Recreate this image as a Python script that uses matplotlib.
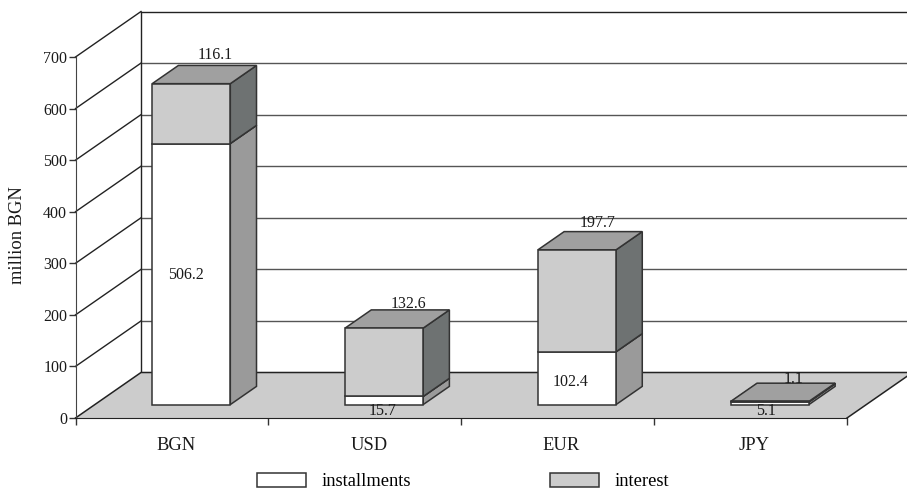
import matplotlib
matplotlib.use("Agg")
import matplotlib.pyplot as plt
from matplotlib.patches import Polygon, Patch

categories = ["BGN", "USD", "EUR", "JPY"]
installments = [506.2, 15.7, 102.4, 5.1]
interest = [116.1, 132.6, 197.7, 1.1]
y_ticks = [0, 100, 200, 300, 400, 500, 600, 700]
series_names = ["installments", "interest"]

# label offsets in pixels from each bar's anchor point
inst_offsets = [(-5, -1), (-2, -10), (-6, -4), (-4, -8)]
int_offsets = [(-2, 10), (-2, 6), (-6, 9), (-3, 4)]

plt.rcParams["font.family"] = ["Liberation Serif", "DejaVu Serif"]
NUM = 11.5
TXT = 13.3

W, H = 907, 490
fig = plt.figure(figsize=(W / 100, H / 100), dpi=100)
ax = fig.add_axes([75.5 / W, (H - 418) / H, 771.5 / W, 361 / H])
ax.set_xlim(0, 4)
ax.set_ylim(0, 700)

DX = 65.5 / (771.5 / 4)   # full depth, in category units
DY = 45.5 / (361 / 700)   # full depth, in value units
EDGE = "#333333"
GRID = "#555555"
INK = "#1a1a1a"


def P(x, y, d):
    return (x + d * DX, y + d * DY)


def poly(points, fc, ec=EDGE, lw=1.1, z=3):
    ax.add_patch(Polygon(points, closed=True, fc=fc, ec=ec, lw=lw, zorder=z,
                         clip_on=False, joinstyle="miter"))


# walls
for v in y_ticks[1:]:
    c = "#222222" if v == 700 else GRID
    ax.plot(*zip(P(0, v, 0), P(0, v, 1)), color="#222222", lw=1, zorder=1, clip_on=False)
    ax.plot(*zip(P(0, v, 1), P(4, v, 1)), color=c, lw=1, zorder=1, clip_on=False)
ax.plot(*zip(P(0, 0, 1), P(0, 700, 1)), color="#222222", lw=1, zorder=1, clip_on=False)

# floor
poly([P(0, 0, 0), P(4, 0, 0), P(4, 0, 1), P(0, 0, 1)], "#cccccc", ec="none", lw=0, z=1.5)
ax.plot(*zip(P(0, 0, 0), P(0, 0, 1), P(4, 0, 1), P(4, 0, 0)), color="#222222", lw=1.1,
        zorder=1.6, clip_on=False)

# bars
D0, D1 = 0.295, 0.695
BW = 0.405
CENTER = 0.5
for i, (a, b) in enumerate(zip(installments, interest)):
    x0 = i + CENTER - BW / 2
    x1 = x0 + BW
    segs = [(0, a, "#ffffff", "#9a9a9a", "#a0a0a0"),
            (a, a + b, "#cccccc", "#6e7272", "#a0a0a0")]
    for lo, hi, front, side, top in segs:
        poly([P(x1, lo, D0), P(x1, lo, D1), P(x1, hi, D1), P(x1, hi, D0)], side)
        poly([P(x0, hi, D0), P(x1, hi, D0), P(x1, hi, D1), P(x0, hi, D1)], top)
        poly([P(x0, lo, D0), P(x1, lo, D0), P(x1, hi, D0), P(x0, hi, D0)], front)
    ax.annotate(f"{a:.1f}", xy=P((x0 + x1) / 2, a / 2, D0), xytext=inst_offsets[i],
                textcoords="offset pixels", ha="center", va="center", fontsize=NUM,
                color=INK, zorder=5, annotation_clip=False)
    ax.annotate(f"{b:.1f}", xy=P((x0 + x1) / 2, a + b, D1), xytext=int_offsets[i],
                textcoords="offset pixels", ha="center", va="center", fontsize=NUM,
                color=INK, zorder=5, annotation_clip=False)

# axes
for s in ("top", "right"):
    ax.spines[s].set_visible(False)
ax.spines["left"].set_color("#444444")
ax.spines["bottom"].set_color("#222222")
ax.spines["left"].set_zorder(2)
ax.spines["bottom"].set_zorder(2)
ax.set_yticks(y_ticks)
ax.set_xticks([0, 1, 2, 3, 4])
ax.set_xticklabels([])
ax.set_xticks([i + 0.52 for i in range(4)], minor=True)
ax.set_xticklabels(categories, minor=True, fontsize=TXT, color=INK)
ax.tick_params(axis="x", which="major", length=5, width=1, color="#333333", direction="out")
ax.tick_params(axis="x", which="minor", length=0, pad=13.5)
ax.tick_params(axis="y", length=5, width=1, color="#333333", pad=1, labelsize=NUM, labelcolor=INK)
fig.text(18 / W, 1 - 235 / H, "million BGN", rotation=90, ha="center", va="center",
         fontsize=TXT, color=INK)

# legend
handles = [Patch(fc="#ffffff", ec=EDGE, lw=1.1), Patch(fc="#cccccc", ec=EDGE, lw=1.1)]
fig.legend(handles, series_names, ncol=2, frameon=False, fontsize=TXT,
           loc="center left", bbox_to_anchor=(257 / W, 1 - 481.5 / H), borderpad=0, borderaxespad=0,
           handlelength=2.65, handleheight=0.85, handletextpad=0.85, columnspacing=7.5)

fig.savefig("out.png", dpi=100)
